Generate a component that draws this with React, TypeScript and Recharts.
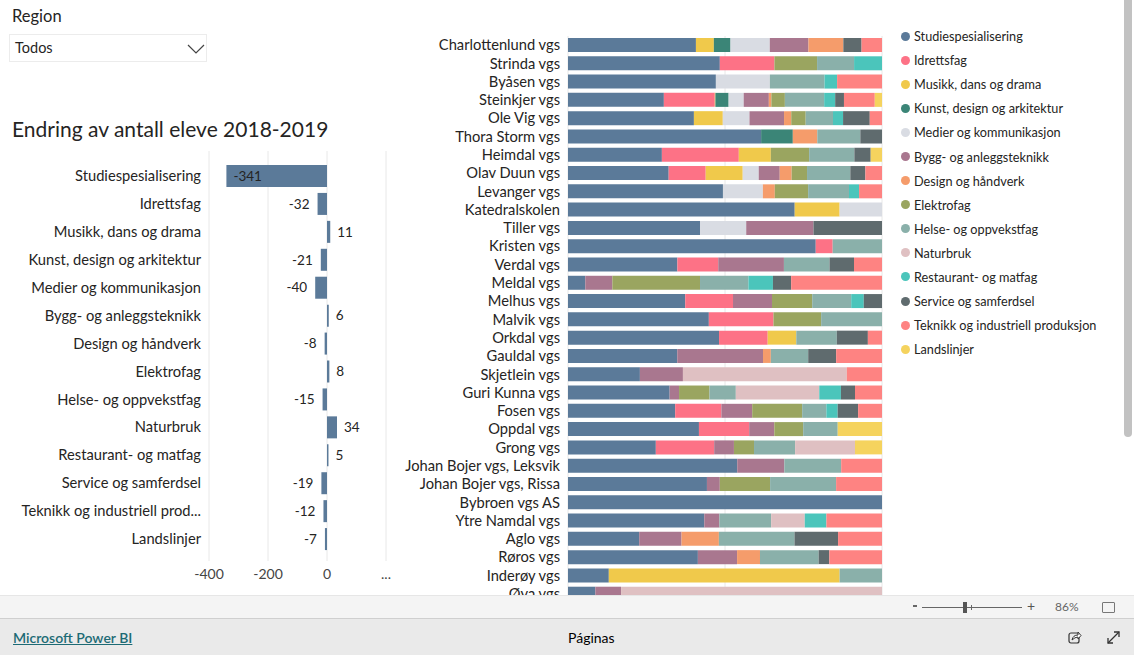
import React from "react";
import { BarChart, Bar, XAxis, YAxis, CartesianGrid, LabelList } from "recharts";

const FONT = '"Segoe UI", Lato, "Noto Sans", sans-serif';
const TEXT = "#252423";

// ---- programme (series) names and colours ----
const programmes = [
  "Studiespesialisering",
  "Idrettsfag",
  "Musikk, dans og drama",
  "Kunst, design og arkitektur",
  "Medier og kommunikasjon",
  "Bygg- og anleggsteknikk",
  "Design og håndverk",
  "Elektrofag",
  "Helse- og oppvekstfag",
  "Naturbruk",
  "Restaurant- og matfag",
  "Service og samferdsel",
  "Teknikk og industriell produksjon",
  "Landslinjer",
];
const programmeColors = [
  "#5B7A99", "#FD7286", "#F0C94B", "#3B8577", "#D9DCE3", "#A9778F", "#F59C6B",
  "#9AA560", "#8AB0AA", "#DFC0C2", "#4BC5BB", "#5F6B6E", "#FE8382", "#F5D35E",
];

// ---- change in number of students 2018-2019 ----
const changeValues = [-341, -32, 11, -21, -40, 6, -8, 8, -15, 34, 5, -19, -12, -7];
const changeTicks = [-400, -200, 0, 200];

// ---- schools (stacked 100% chart) ----
const schools = [
  "Charlottenlund vgs", "Strinda vgs", "Byåsen vgs", "Steinkjer vgs", "Ole Vig vgs",
  "Thora Storm vgs", "Heimdal vgs", "Olav Duun vgs", "Levanger vgs", "Katedralskolen",
  "Tiller vgs", "Kristen vgs", "Verdal vgs", "Meldal vgs", "Melhus vgs", "Malvik vgs",
  "Orkdal vgs", "Gauldal vgs", "Skjetlein vgs", "Guri Kunna vgs", "Fosen vgs",
  "Oppdal vgs", "Grong vgs", "Johan Bojer vgs, Leksvik", "Johan Bojer vgs, Rissa",
  "Bybroen vgs AS", "Ytre Namdal vgs", "Aglo vgs", "Røros vgs", "Inderøy vgs", "Øya vgs",
];

// shares (%) per school, one array per programme, in school order
const studiespesialisering = [40.7, 48.4, 47.1, 30.5, 40.1, 61.5, 29.9, 32.1, 49.3, 72.2, 42.0, 78.9, 34.8, 5.5, 37.3, 44.9, 48.1, 34.8, 22.9, 32.4, 34.1, 41.7, 28.0, 53.9, 44.2, 100, 43.4, 22.7, 41.4, 13.0, 8.7];
const idrettsfag = [0, 17.4, 0, 16.2, 0, 0, 24.5, 11.8, 0, 0, 0, 5.4, 13.0, 0, 15.2, 20.6, 15.5, 0, 0, 0, 14.7, 16.0, 18.6, 0, 0, 0, 0, 0, 0, 0, 0];
const musikk = [5.7, 0, 0, 0.2, 9.2, 0, 10.2, 11.8, 0, 14.3, 0, 0, 0, 0, 0, 0, 9.1, 0, 0, 0, 0, 0, 0, 0, 0, 0, 0, 0, 0, 73.5, 0];
const kunst = [5.3, 0, 0, 4.2, 0, 10.1, 0, 0, 0, 0, 0, 0, 0, 0, 0, 0, 0, 0, 0, 0, 0, 0, 0, 0, 0, 0, 0, 0, 0, 0, 0];
const medier = [12.5, 0, 17.2, 4.8, 8.5, 0, 0, 5.1, 12.7, 13.5, 14.7, 0, 0, 0, 0, 0, 0, 0, 0, 0, 0, 0, 0, 0, 0, 0, 0, 0, 0, 0, 0];
const bygg = [12.3, 0, 0, 8.0, 11.0, 0, 0, 6.7, 0, 0, 21.4, 0, 20.9, 8.6, 12.4, 0, 0, 27.3, 13.7, 3.0, 9.8, 8.0, 6.3, 15.0, 4.1, 0, 4.8, 13.5, 12.5, 0, 8.2];
const design = [11.1, 0, 0, 0.8, 2.3, 7.8, 0, 3.8, 3.8, 0, 0, 0, 0, 0, 0, 0, 0, 2.5, 0, 0, 0, 0, 0, 0, 0, 0, 0, 11.9, 7.3, 0, 0];
const elektro = [0, 13.6, 0, 4.3, 4.6, 0, 12.2, 4.9, 10.6, 0, 0, 0, 0, 27.9, 12.8, 15.2, 0, 0, 0, 9.7, 15.9, 9.2, 6.4, 0, 16.0, 0, 0, 0, 0, 0, 0];
const helse = [0, 11.8, 17.4, 12.5, 8.7, 13.7, 14.4, 13.8, 13.0, 0, 0, 15.7, 14.5, 15.4, 12.4, 19.4, 12.9, 11.9, 0, 8.4, 7.7, 11.0, 13.1, 18.1, 21.0, 0, 16.5, 24.1, 18.7, 13.5, 0];
const naturbruk = [0, 0, 0, 0, 0, 0, 0, 0, 0, 0, 0, 0, 0, 0, 0, 0, 0, 0, 52.2, 26.6, 0, 0, 19.1, 0, 0, 0, 10.7, 0, 0, 0, 83.1];
const restaurant = [0, 8.9, 4.0, 3.5, 3.2, 0, 0, 0, 3.2, 0, 0, 0, 0, 7.8, 4.0, 0, 0, 0, 0, 6.9, 3.6, 0, 0, 0, 0, 0, 6.9, 0, 0, 0, 0];
const service = [5.8, 0, 0, 2.8, 8.5, 6.9, 5.2, 4.8, 0, 0, 21.8, 0, 7.8, 5.8, 5.8, 0, 9.9, 8.9, 0, 4.5, 6.5, 0, 0, 0, 0, 0, 0, 13.9, 3.4, 0, 0];
const teknikk = [6.5, 0, 14.3, 9.8, 3.9, 0, 0, 5.3, 7.3, 0, 0, 0, 8.9, 28.9, 0, 0, 4.5, 14.6, 11.2, 8.6, 7.6, 0, 0, 13.0, 14.6, 0, 17.7, 14.0, 16.8, 0, 0];
const landslinjer = [0, 0, 0, 2.3, 0, 0, 3.6, 0, 0, 0, 0, 0, 0, 0, 0, 0, 0, 0, 0, 0, 0, 14.1, 8.6, 0, 0, 0, 0, 0, 0, 0, 0];

const seriesValues = [
  studiespesialisering, idrettsfag, musikk, kunst, medier, bygg, design,
  elektro, helse, naturbruk, restaurant, service, teknikk, landslinjer,
];

const changeData = programmes.map((p, i) => ({ name: p, value: changeValues[i] }));
const schoolData = schools.map((s, si) => {
  const row: Record<string, any> = { school: s };
  programmes.forEach((p, pi) => {
    row["s" + pi] = seriesValues[pi][si];
  });
  return row;
});

const truncate = (s: string) => (s.length > 28 ? s.slice(0, 27) + "..." : s);

const LeftTick = (props: any) => {
  const { x, y, payload } = props;
  return (
    <text x={x} y={y} dy="0.35em" textAnchor="end" fontSize={14.7} fill={TEXT} fontFamily={FONT}>
      {truncate(payload.value)}
    </text>
  );
};

const SchoolTick = (props: any) => {
  const { x, y, payload } = props;
  return (
    <text x={x} y={y} dy="0.35em" textAnchor="end" fontSize={14.7} fill={TEXT} fontFamily={FONT}>
      {payload.value}
    </text>
  );
};

const ChangeLabel = (props: any) => {
  const { x, y, width, height, value } = props;
  const left = Math.min(x, x + width);
  const right = Math.max(x, x + width);
  const cy = y + height / 2;
  let tx = right + 7;
  let anchor: "start" | "end" = "start";
  if (value < 0 && value < -200) {
    tx = left + 7;
  } else if (value < 0) {
    tx = left - 8;
    anchor = "end";
  }
  return (
    <text x={tx} y={cy} dy="0.35em" textAnchor={anchor} fontSize={13.5} fill={TEXT} fontFamily={FONT}>
      {value}
    </text>
  );
};

export default function App() {
  return (
    <div
      style={{
        position: "absolute",
        left: 0,
        top: 0,
        width: 1134,
        height: 655,
        background: "#fff",
        overflow: "hidden",
        fontFamily: FONT,
        color: TEXT,
      }}
    >
      {/* Region slicer */}
      <div style={{ position: "absolute", left: 12, top: 6, fontSize: 16.5 }}>Region</div>
      <div
        style={{
          position: "absolute",
          left: 9,
          top: 34,
          width: 196,
          height: 26,
          border: "1px solid #ececec",
          boxSizing: "content-box",
        }}
      >
        <div style={{ position: "absolute", left: 5, top: 4, fontSize: 14.5 }}>Todos</div>
        <svg style={{ position: "absolute", left: 177, top: 9 }} width={18} height={10}>
          <polyline points="1,1 9,9 17,1" fill="none" stroke="#444" strokeWidth={1.2} />
        </svg>
      </div>

      {/* Title */}
      <div style={{ position: "absolute", left: 12, top: 116, fontSize: 21, whiteSpace: "nowrap" }}>
        Endring av antall eleve 2018-2019
      </div>

      {/* Left bar chart */}
      <div style={{ position: "absolute", left: 0, top: 140 }}>
        <BarChart
          width={400}
          height={450}
          data={changeData}
          layout="vertical"
          margin={{ top: 11, right: 14, left: 0, bottom: 0 }}
        >
          <CartesianGrid horizontal={false} stroke="#e8e8e8" />
          <XAxis
            type="number"
            domain={[-400, 200]}
            ticks={changeTicks}
            tickFormatter={(v: number) => (v === 200 ? "..." : String(v))}
            axisLine={false}
            tickLine={false}
            height={29}
            tick={{ fontSize: 14, fill: "#444", fontFamily: FONT }}
            allowDataOverflow
          />
          <YAxis
            type="category"
            dataKey="name"
            width={209}
            axisLine={false}
            tickLine={false}
            interval={0}
            padding={{ top: 11, bottom: 8 }}
            tick={<LeftTick />}
          />
          <Bar dataKey="value" fill="#5B7A99" barSize={22} isAnimationActive={false}>
            <LabelList dataKey="value" content={<ChangeLabel />} />
          </Bar>
        </BarChart>
      </div>

      {/* Right stacked 100% chart */}
      <div style={{ position: "absolute", left: 380, top: 26, height: 570, overflow: "hidden", width: 510 }}>
        <BarChart
          width={510}
          height={577}
          data={schoolData}
          layout="vertical"
          stackOffset="expand"
          margin={{ top: 10, right: 8, left: 0, bottom: 0 }}
        >
          <CartesianGrid horizontal={false} stroke="#e8e8e8" />
          <XAxis type="number" domain={[0, 1]} ticks={[0, 0.5, 1]} hide />
          <YAxis
            type="category"
            dataKey="school"
            width={188}
            axisLine={false}
            tickLine={false}
            interval={0}
            tick={<SchoolTick />}
          />
          {programmes.map((p, i) => (
            <Bar
              key={p}
              dataKey={"s" + i}
              name={p}
              stackId="a"
              fill={programmeColors[i]}
              barSize={14}
              isAnimationActive={false}
            />
          ))}
        </BarChart>
      </div>

      {/* Legend */}
      <div style={{ position: "absolute", left: 901, top: 24 }}>
        {programmes.map((p, i) => (
          <div
            key={p}
            style={{ display: "flex", alignItems: "center", height: 24.1, fontSize: 12.7, whiteSpace: "nowrap" }}
          >
            <span
              style={{
                display: "inline-block",
                width: 9,
                height: 9,
                borderRadius: "50%",
                background: programmeColors[i],
                marginRight: 4,
              }}
            />
            {p}
          </div>
        ))}
      </div>

      {/* Scrollbar */}
      <div
        style={{
          position: "absolute",
          left: 1124,
          top: 0,
          width: 8,
          height: 437,
          background: "#c2c2c2",
          borderRadius: "0 0 4px 4px",
        }}
      />

      {/* Zoom bar */}
      <div
        style={{
          position: "absolute",
          left: 0,
          top: 595,
          width: 1134,
          height: 23,
          background: "#f4f4f4",
          borderTop: "1px solid #e6e6e6",
        }}
      >
        <div style={{ position: "absolute", left: 913, top: 9, width: 4, height: 2, background: "#666" }} />
        <div style={{ position: "absolute", left: 922, top: 11, width: 100, height: 1, background: "#666" }} />
        <div style={{ position: "absolute", left: 963, top: 6, width: 4, height: 11, background: "#555" }} />
        <div style={{ position: "absolute", left: 971, top: 9, width: 1, height: 5, background: "#666" }} />
        <div style={{ position: "absolute", left: 1027, top: 1, fontSize: 14, color: "#555" }}>+</div>
        <div style={{ position: "absolute", left: 1055, top: 3, fontSize: 12, color: "#666" }}>86%</div>
        <div
          style={{
            position: "absolute",
            left: 1102,
            top: 6,
            width: 11,
            height: 9,
            border: "1px solid #777",
            borderRadius: 1,
          }}
        />
      </div>

      {/* Footer */}
      <div
        style={{
          position: "absolute",
          left: 0,
          top: 618,
          width: 1134,
          height: 37,
          background: "#eaeaea",
          borderTop: "1px solid #cfcfcf",
        }}
      >
        <div
          style={{
            position: "absolute",
            left: 13,
            top: 10,
            fontSize: 14,
            fontWeight: 600,
            color: "#1d6b75",
            textDecoration: "underline",
          }}
        >
          Microsoft Power BI
        </div>
        <div style={{ position: "absolute", left: 568, top: 10, fontSize: 14, color: "#000" }}>Páginas</div>
        <svg style={{ position: "absolute", left: 1068, top: 11 }} width={14} height={14}>
          <rect x={1} y={3} width={10} height={10} rx={2} fill="none" stroke="#333" strokeWidth={1.2} />
          <path d="M4 10 Q5 5 10 5 L10 2 L13 5.5 L10 9 L10 7 Q7 7 4 10 Z" fill="#fff" stroke="#333" strokeWidth={1} />
        </svg>
        <svg style={{ position: "absolute", left: 1106, top: 11 }} width={15} height={15}>
          <line x1={2} y1={13} x2={13} y2={2} stroke="#333" strokeWidth={1.3} />
          <polyline points="8,2 13,2 13,7" fill="none" stroke="#333" strokeWidth={1.3} />
          <polyline points="2,8 2,13 7,13" fill="none" stroke="#333" strokeWidth={1.3} />
        </svg>
      </div>
    </div>
  );
}
